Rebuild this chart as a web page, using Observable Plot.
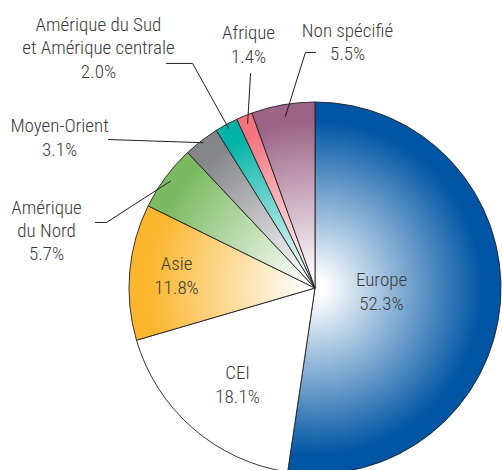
<!DOCTYPE html>
<html><head><meta charset="utf-8">
<script src="https://cdn.jsdelivr.net/npm/d3@7"></script>
<script src="https://cdn.jsdelivr.net/npm/@observablehq/plot@0.6"></script>
<style>html,body{margin:0;padding:0;background:#fff;overflow:hidden}</style>
</head><body><div id="chart"></div>
<script>
// ---- data ----
const categories = ["Europe","CEI","Asie","Amérique du Nord","Moyen-Orient","Amérique du Sud et Amérique centrale","Afrique","Non spécifié"];
const shares = [52.3, 18.1, 11.8, 5.7, 3.1, 2.0, 1.4, 5.5];
const labelLines = [["Europe"],["CEI"],["Asie"],["Amérique","du Nord"],["Moyen-Orient"],["Amérique du Sud","et Amérique centrale"],["Afrique"],["Non spécifié"]];

// ---- styles / layout (unit coordinates relative to pie radius) ----
const colors = ["#0055a4","#ffffff","#fbb62e","#7cba62","#848589","#00b3a6","#f2737f","#9c6386"];
const labelX = [0.355, -0.419, -0.747, -1.446, -1.376, -1.167, -0.360, 0.172];
const labelY = [-0.113, -0.613, -0.027, 0.151, 0.715, 1.134, 1.215, 1.226]; // baseline of last line
const leaderPts = [null, null, null,
  [[-1.183,0.355],[-1.124,0.355]],
  [[-1.113,0.801]],
  [[-0.801,1.210],[-0.661,1.210]],
  [[-0.349,1.156]],
  [[0,1.269],[-0.054,1.269]]];
const leaderR = [0,0,0,0.97,0.99,0.98,0.96,0.94];

const total = d3.sum(shares);
let cum = 0;
const table = categories.map((c, i) => {
  const a0 = cum / total * 2 * Math.PI; cum += shares[i];
  const a1 = cum / total * 2 * Math.PI;
  return {category: c, share: shares[i], color: colors[i], a0, a1, mid: (a0 + a1) / 2,
    label: labelLines[i].join("\n") + "\n" + shares[i].toFixed(1) + "%",
    lx: labelX[i], ly: labelY[i]};
});

const leaders = [];
table.forEach((d, i) => {
  if (!leaderPts[i]) return;
  leaderPts[i].forEach(([x, y]) => leaders.push({category: d.category, x, y}));
  leaders.push({category: d.category, x: leaderR[i] * Math.sin(d.mid), y: leaderR[i] * Math.cos(d.mid)});
});

function pieMark(index, scales) {
  const cx = scales.x(0), cy = scales.y(0), R = scales.x(1) - cx;
  const g = d3.create("svg:g");
  const defs = g.append("defs");
  table.forEach((d, i) => {
    const grad = defs.append("radialGradient").attr("id", "pgrad" + i)
      .attr("gradientUnits", "userSpaceOnUse").attr("cx", 0).attr("cy", 0).attr("r", R);
    const stops = d.color === "#ffffff" ? [[0, "#fff"], [1, "#fff"]]
      : [[0, "#ffffff"], [0.05, "#ffffff"], [0.9, d.color], [1, d.color]];
    stops.forEach(([o, c]) => grad.append("stop").attr("offset", o).attr("stop-color", c));
  });
  const arc = d3.arc().innerRadius(0).outerRadius(R);
  g.append("g").selectAll("path").data(table).join("path")
    .attr("transform", `translate(${cx},${cy})`)
    .attr("d", d => arc({startAngle: d.a0, endAngle: d.a1}))
    .attr("fill", (d, i) => `url(#pgrad${i})`)
    .attr("stroke", "#231f20").attr("stroke-width", 0.9).attr("stroke-linejoin", "round");
  return g.node();
}

const chart = Plot.plot({
  width: 502, height: 470, margin: 0,
  x: {domain: [-1, 1], range: [129, 501], axis: null},
  y: {domain: [-1, 1], range: [474, 102], axis: null},
  style: {background: "#fff", fontFamily: "'Liberation Sans Narrow', 'Roboto Condensed', Roboto, sans-serif"},
  marks: [
    pieMark,
    Plot.line(leaders, {x: "x", y: "y", z: "category", stroke: "#231f20", strokeWidth: 1, curve: "linear"}),
    Plot.text(table, {x: "lx", y: "ly", text: "label", lineAnchor: "bottom", lineHeight: 1.22,
      fontSize: 19, fontWeight: 300, fill: "#3a3a3a", textAnchor: "middle"})
  ]
});
document.getElementById("chart").appendChild(chart);
</script>
</body></html>
